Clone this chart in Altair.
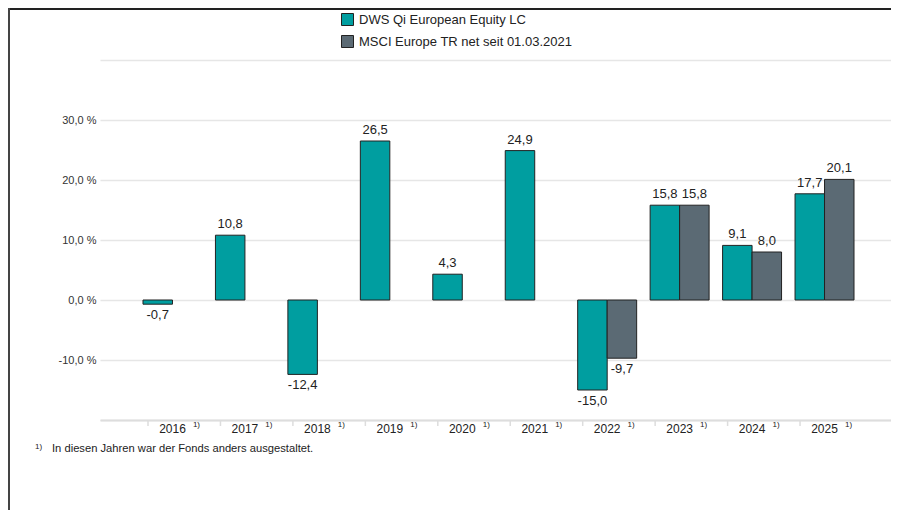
import altair as alt
import pandas as pd

years = ["2016", "2017", "2018", "2019", "2020", "2021", "2022", "2023", "2024", "2025"]
dws = [-0.7, 10.8, -12.4, 26.5, 4.3, 24.9, -15.0, 15.8, 9.1, 17.7]
msci = [None, None, None, None, None, None, -9.7, 15.8, 8.0, 20.1]
series_names = ["DWS Qi European Equity LC", "MSCI Europe TR net seit 01.03.2021"]
colors = ["#009EA0", "#5B6A74"]
y_ticks = [-20, -10, 0, 10, 20, 30, 40]
footnote_mark = "1)"
footnote_text = "In diesen Jahren war der Fonds anders ausgestaltet."

rows = []
for y, a, b in zip(years, dws, msci):
    rows.append({"year": y, "series": series_names[0], "value": a})
    if b is not None:
        rows.append({"year": y, "series": series_names[1], "value": b})
df = pd.DataFrame(rows)
df_years = pd.DataFrame({"year": years, "note": [footnote_mark] * len(years)})

W, H = 791, 360
FONT = "Liberation Sans"

x_enc = alt.X("year:N", sort=years, title=None,
              scale=alt.Scale(domain=years, paddingInner=0.186, paddingOuter=0.552, align=0.5375),
              axis=alt.Axis(labelAngle=0, ticks=False, domain=True, domainColor="#dddddd",
                            domainWidth=2, labelPadding=3, labelFontSize=12,
                            labelColor="#222222", labelFont=FONT, grid=False))
y_enc = alt.Y("value:Q", title=None,
              scale=alt.Scale(domain=[-20, 40], nice=False, zero=True),
              axis=alt.Axis(values=y_ticks, grid=True, gridColor="#e6e6e6", gridWidth=1.5,
                            domain=False, ticks=False, labelPadding=4, labelFontSize=11,
                            labelColor="#333333", labelFont=FONT,
                            labelExpr="(datum.value >= 40 || datum.value <= -20) ? '' : replace(replace(format(datum.value, '.1f'), '.', ','), '\u2212', '-') + ' %'"))
xoff = alt.XOffset("series:N", sort=series_names,
                   scale=alt.Scale(domain=series_names, paddingInner=0, paddingOuter=0))

base = alt.Chart(df)

bars = base.mark_bar(stroke="#222222", strokeWidth=1).encode(
    x=x_enc, y=y_enc, xOffset=xoff,
    fill=alt.Fill("series:N", sort=series_names,
                  scale=alt.Scale(domain=series_names, range=colors),
                  legend=alt.Legend(title=None, orient="none", legendX=241, legendY=-47,
                                    direction="vertical", symbolType="square", symbolSize=144,
                                    symbolStrokeColor="#222222", symbolStrokeWidth=1,
                                    labelFontSize=13, labelColor="#222222", labelFont=FONT,
                                    labelLimit=0, rowPadding=5, labelOffset=5, padding=0)),
)

lab = base.transform_calculate(
    lbl="replace(replace(format(datum.value, '.1f'), '.', ','), '\u2212', '-')"
)
pos_labels = lab.transform_filter("datum.value >= 0").mark_text(
    baseline="bottom", dy=-4, fontSize=13, color="#222222", font=FONT
).encode(x=alt.X("year:N", sort=years), y="value:Q", xOffset=xoff, text="lbl:N")
neg_labels = lab.transform_filter("datum.value < 0").mark_text(
    baseline="top", dy=5, fontSize=13, color="#222222", font=FONT
).encode(x=alt.X("year:N", sort=years), y="value:Q", xOffset=xoff, text="lbl:N")

ybase = alt.Chart(df_years)
sup = ybase.mark_text(fontSize=8, dx=24, dy=5, color="#222222", font=FONT, baseline="middle").encode(
    x=alt.X("year:N", sort=years), y=alt.datum(-20), text="note:N")
ticks = ybase.mark_rule(color="#dddddd", strokeWidth=1.5).encode(
    x=alt.X("year:N", sort=years, bandPosition=0.085), y=alt.datum(-20), y2=alt.datum(-21))

fn = pd.DataFrame({"m": [footnote_mark], "t": [footnote_text]})
fn_mark = alt.Chart(fn).mark_text(fontSize=8, align="left", baseline="middle", color="#222222", font=FONT).encode(
    x=alt.value(-65), y=alt.value(387), text="m:N")
fn_text = alt.Chart(fn).mark_text(fontSize=11.2, align="left", baseline="middle", color="#222222", font=FONT).encode(
    x=alt.value(-48), y=alt.value(389), text="t:N")

border_top = alt.Chart(fn).mark_rule(color="#222222", strokeWidth=2).encode(
    x=alt.value(-92), x2=alt.value(W), y=alt.value(-51))
border_left = alt.Chart(fn).mark_rule(color="#444444", strokeWidth=2).encode(
    x=alt.value(-91), y=alt.value(-52), y2=alt.value(H + 90))

chart = alt.layer(
    bars, pos_labels, neg_labels, sup, ticks, fn_mark, fn_text, border_top, border_left
).properties(
    width=W, height=H,
    autosize=alt.AutoSizeParams(type="none"),
    padding={"left": 92, "top": 52, "right": 0, "bottom": 90},
).configure(background="white").configure_view(stroke=None)

chart.save("out.html", embed_options={"renderer": "svg", "actions": False})
